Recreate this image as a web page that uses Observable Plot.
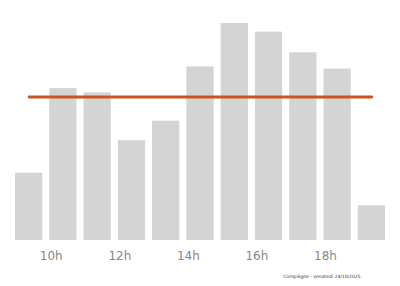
<!DOCTYPE html>
<html>
<head>
<meta charset="utf-8">
<script src="https://cdn.jsdelivr.net/npm/d3@7"></script>
<script src="https://cdn.jsdelivr.net/npm/@observablehq/plot@0.6"></script>
<style>
  html, body { margin: 0; padding: 0; background: #fff; }
  svg { display: block; }
</style>
</head>
<body>
<div id="chart"></div>
<script>
const hours = [9, 10, 11, 12, 13, 14, 15, 16, 17, 18, 19];
const values = [31, 70, 68, 46, 55, 80, 100, 96, 86.5, 79, 16];
const tickHours = [10, 12, 14, 16, 18];
const caption = "Compiègne - vendredi 24/10/2025";

const data = hours.map((h, i) => ({hour: h, value: values[i]}));
const mean = d3.mean(values);

const chart = Plot.plot({
  width: 400,
  height: 286,
  marginLeft: 15,
  marginRight: 8,
  marginTop: 23,
  marginBottom: 46,
  style: {fontFamily: "DejaVu Sans", background: "#fff"},
  x: {domain: [9, 20], axis: null},
  y: {domain: [0, 100], axis: null},
  marks: [
    Plot.rectY(data, {x1: "hour", x2: d => d.hour + 1, y: "value", fill: "#d4d4d4", insetLeft: 0, insetRight: 7}),
    Plot.lineY(data, {x: "hour", y: () => mean, dx: 13.6, stroke: "#c9541f", strokeWidth: 2.8}),
    Plot.axisX(tickHours, {tickSize: 0, tickPadding: 11, tickFormat: d => d + "h", fontSize: 12, fill: "#888", dx: 1.5, label: null}),
    Plot.text([caption], {frameAnchor: "bottom-right", text: d => d, dx: -32, dy: 37, fontSize: 4.5, fill: "#333", textAnchor: "end"})
  ]
});
document.getElementById("chart").appendChild(chart);
</script>
</body>
</html>
